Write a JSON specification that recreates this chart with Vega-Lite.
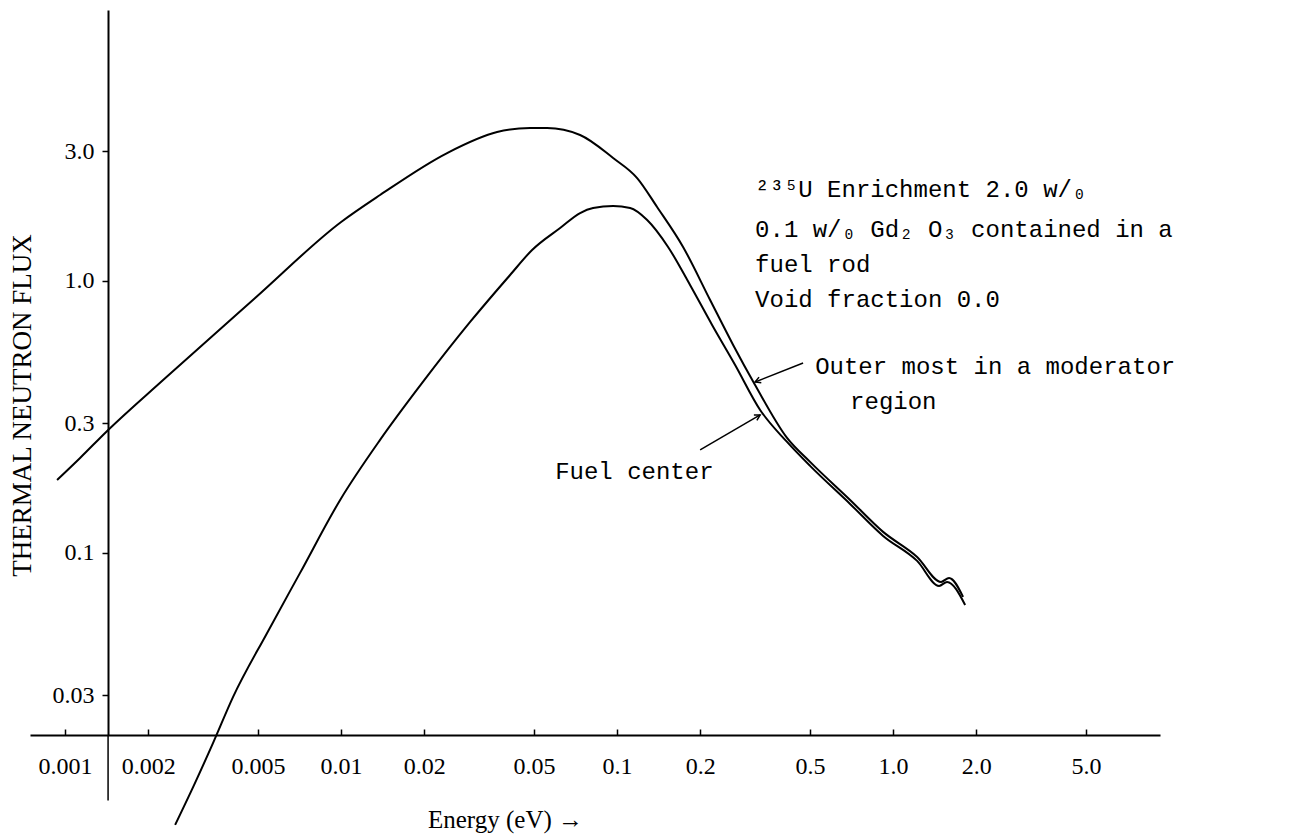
{
  "$schema": "https://vega.github.io/schema/vega-lite/v6.json",
  "width": 1130,
  "height": 725,
  "autosize": {"type": "none"},
  "padding": {"left": 30, "top": 10, "right": 133, "bottom": 104},
  "background": "white",
  "config": {"view": {"stroke": null}, "font": "Liberation Serif"},
  "datasets": {
    "curves": [
      {"series": "Outer most in a moderator region", "energy": 0.000935, "flux": 0.1855},
      {"series": "Outer most in a moderator region", "energy": 0.001133, "flux": 0.2235},
      {"series": "Outer most in a moderator region", "energy": 0.001408, "flux": 0.2786},
      {"series": "Outer most in a moderator region", "energy": 0.002265, "flux": 0.4325},
      {"series": "Outer most in a moderator region", "energy": 0.004881, "flux": 0.866},
      {"series": "Outer most in a moderator region", "energy": 0.01, "flux": 1.648},
      {"series": "Outer most in a moderator region", "energy": 0.01384, "flux": 2.071},
      {"series": "Outer most in a moderator region", "energy": 0.02422, "flux": 2.955},
      {"series": "Outer most in a moderator region", "energy": 0.03674, "flux": 3.53},
      {"series": "Outer most in a moderator region", "energy": 0.0484, "flux": 3.651},
      {"series": "Outer most in a moderator region", "energy": 0.05577, "flux": 3.651},
      {"series": "Outer most in a moderator region", "energy": 0.07343, "flux": 3.442},
      {"series": "Outer most in a moderator region", "energy": 0.09672, "flux": 2.833},
      {"series": "Outer most in a moderator region", "energy": 0.1182, "flux": 2.391},
      {"series": "Outer most in a moderator region", "energy": 0.1396, "flux": 1.871},
      {"series": "Outer most in a moderator region", "energy": 0.1734, "flux": 1.334},
      {"series": "Outer most in a moderator region", "energy": 0.2173, "flux": 0.8514},
      {"series": "Outer most in a moderator region", "energy": 0.2633, "flux": 0.5818},
      {"series": "Outer most in a moderator region", "energy": 0.3162, "flux": 0.4146},
      {"series": "Outer most in a moderator region", "energy": 0.4128, "flux": 0.2648},
      {"series": "Outer most in a moderator region", "energy": 0.5003, "flux": 0.2161},
      {"series": "Outer most in a moderator region", "energy": 0.6985, "flux": 0.1566},
      {"series": "Outer most in a moderator region", "energy": 0.9201, "flux": 0.1195},
      {"series": "Outer most in a moderator region", "energy": 1.222, "flux": 0.09667},
      {"series": "Outer most in a moderator region", "energy": 1.492, "flux": 0.07822},
      {"series": "Outer most in a moderator region", "energy": 1.595, "flux": 0.08093},
      {"series": "Outer most in a moderator region", "energy": 1.793, "flux": 0.06889},
      {"series": "Fuel center", "energy": 0.002504, "flux": 0.01},
      {"series": "Fuel center", "energy": 0.002934, "flux": 0.01403},
      {"series": "Fuel center", "energy": 0.003437, "flux": 0.02002},
      {"series": "Fuel center", "energy": 0.004061, "flux": 0.02956},
      {"series": "Fuel center", "energy": 0.005394, "flux": 0.0508},
      {"series": "Fuel center", "energy": 0.007101, "flux": 0.08444},
      {"series": "Fuel center", "energy": 0.00992, "flux": 0.1566},
      {"series": "Fuel center", "energy": 0.01384, "flux": 0.2603},
      {"series": "Fuel center", "energy": 0.01966, "flux": 0.4217},
      {"series": "Fuel center", "energy": 0.02934, "flux": 0.7067},
      {"series": "Fuel center", "energy": 0.04095, "flux": 1.052},
      {"series": "Fuel center", "energy": 0.0492, "flux": 1.3},
      {"series": "Fuel center", "energy": 0.06216, "flux": 1.566},
      {"series": "Fuel center", "energy": 0.07343, "flux": 1.778},
      {"series": "Fuel center", "energy": 0.08185, "flux": 1.855},
      {"series": "Fuel center", "energy": 0.09672, "flux": 1.887},
      {"series": "Fuel center", "energy": 0.1115, "flux": 1.855},
      {"series": "Fuel center", "energy": 0.1285, "flux": 1.676},
      {"series": "Fuel center", "energy": 0.153, "flux": 1.334},
      {"series": "Fuel center", "energy": 0.1838, "flux": 0.9667},
      {"series": "Fuel center", "energy": 0.2209, "flux": 0.6891},
      {"series": "Fuel center", "energy": 0.2677, "flux": 0.4911},
      {"series": "Fuel center", "energy": 0.3298, "flux": 0.3356},
      {"series": "Fuel center", "energy": 0.4128, "flux": 0.2559},
      {"series": "Fuel center", "energy": 0.5003, "flux": 0.2089},
      {"series": "Fuel center", "energy": 0.6985, "flux": 0.1514},
      {"series": "Fuel center", "energy": 0.9201, "flux": 0.1155},
      {"series": "Fuel center", "energy": 1.222, "flux": 0.09346},
      {"series": "Fuel center", "energy": 1.468, "flux": 0.07562},
      {"series": "Fuel center", "energy": 1.569, "flux": 0.07822},
      {"series": "Fuel center", "energy": 1.824, "flux": 0.06438}
    ],
    "notes": [
      {"text": "²³⁵U Enrichment 2.0 w/₀", "energy": 0.3162, "flux": 2.161},
      {"text": "0.1 w/₀  Gd₂ O₃  contained in a", "energy": 0.3162, "flux": 1.54},
      {"text": "fuel rod", "energy": 0.3162, "flux": 1.145},
      {"text": "Void fraction 0.0", "energy": 0.3162, "flux": 0.8514},
      {"text": "Outer most in a moderator", "energy": 0.5218, "flux": 0.4829},
      {"text": "region", "energy": 0.6985, "flux": 0.359},
      {"text": "Fuel center", "energy": 0.05963, "flux": 0.1985}
    ],
    "arrows": [
      {"arrow": "outer", "energy": 0.4719, "flux": 0.4995},
      {"arrow": "outer", "energy": 0.3162, "flux": 0.4252},
      {"arrow": "fuel", "energy": 0.1999, "flux": 0.2391},
      {"arrow": "fuel", "energy": 0.3298, "flux": 0.3216}
    ],
    "axisExtension": [
      {"energy": 0.001431, "flux": 0.0214, "flux2": 0.0123}
    ]
  },
  "layer": [
    {
      "data": {"name": "curves"},
      "mark": {"type": "line", "color": "black", "strokeWidth": 2, "interpolate": "monotone"},
      "encoding": {
        "x": {
          "field": "energy",
          "type": "quantitative",
          "scale": {"type": "log", "domain": [0.000746, 9.27], "nice": false},
          "axis": {
            "values": [0.001, 0.002, 0.005, 0.01, 0.02, 0.05, 0.1, 0.2, 0.5, 1, 2, 5],
            "labelExpr": "datum.value >= 1 ? format(datum.value, '.1f') : format(datum.value, '~g')",
            "grid": false,
            "domainColor": "black",
            "domainWidth": 2,
            "tickColor": "black",
            "tickWidth": 1.5,
            "tickSize": -6,
            "labelPadding": 25,
            "labelFont": "Liberation Serif",
            "labelFontSize": 24,
            "labelColor": "black",
            "labelOverlap": false,
            "labelFlush": false,
            "title": "Energy (eV) →",
            "titleFont": "Liberation Serif",
            "titleFontSize": 25,
            "titleFontWeight": "normal",
            "titleColor": "black",
            "titleX": 475,
            "titleY": 84,
            "titleBaseline": "middle"
          }
        },
        "y": {
          "field": "flux",
          "type": "quantitative",
          "scale": {"type": "log", "domain": [0.0214, 9.92], "nice": false},
          "axis": {
            "values": [0.03, 0.1, 0.3, 1, 3],
            "labelExpr": "datum.value >= 1 ? format(datum.value, '.1f') : format(datum.value, '~g')",
            "offset": -78,
            "grid": false,
            "domainColor": "black",
            "domainWidth": 2,
            "tickColor": "black",
            "tickWidth": 1.5,
            "tickSize": 6,
            "labelPadding": 8,
            "labelFont": "Liberation Serif",
            "labelFontSize": 24,
            "labelColor": "black",
            "labelOverlap": false,
            "title": "THERMAL NEUTRON FLUX",
            "titleFont": "Liberation Serif",
            "titleFontSize": 27,
            "titleFontWeight": "normal",
            "titleColor": "black",
            "titleX": -86,
            "titleY": 395,
            "titleAngle": -90,
            "titleAlign": "center",
            "titleBaseline": "middle"
          }
        },
        "detail": {"field": "series", "type": "nominal"}
      }
    },
    {
      "data": {"name": "axisExtension"},
      "mark": {"type": "rule", "color": "black", "strokeWidth": 1.5},
      "encoding": {
        "x": {"field": "energy", "type": "quantitative"},
        "y": {"field": "flux", "type": "quantitative"},
        "y2": {"field": "flux2"}
      }
    },
    {
      "data": {"name": "arrows"},
      "mark": {"type": "line", "color": "black", "strokeWidth": 1.5},
      "encoding": {
        "x": {"field": "energy", "type": "quantitative"},
        "y": {"field": "flux", "type": "quantitative"},
        "detail": {"field": "arrow", "type": "nominal"}
      }
    },
    {
      "data": {"name": "arrows"},
      "transform": [{"filter": "datum.arrow == 'outer'"}, {"window": [{"op": "row_number", "as": "i"}]}, {"filter": "datum.i == 2"}],
      "mark": {"type": "point", "shape": "M -1 -0.55 L 0 0 L -1 0.55", "filled": false, "stroke": "black", "strokeWidth": 1.5, "size": 120, "angle": 158, "opacity": 1},
      "encoding": {
        "x": {"field": "energy", "type": "quantitative"},
        "y": {"field": "flux", "type": "quantitative"}
      }
    },
    {
      "data": {"name": "arrows"},
      "transform": [{"filter": "datum.arrow == 'fuel'"}, {"window": [{"op": "row_number", "as": "i"}]}, {"filter": "datum.i == 2"}],
      "mark": {"type": "point", "shape": "M -1 -0.55 L 0 0 L -1 0.55", "filled": false, "stroke": "black", "strokeWidth": 1.5, "size": 120, "angle": 330, "opacity": 1},
      "encoding": {
        "x": {"field": "energy", "type": "quantitative"},
        "y": {"field": "flux", "type": "quantitative"}
      }
    },
    {
      "data": {"name": "notes"},
      "mark": {"type": "text", "align": "left", "baseline": "middle", "font": "Liberation Mono", "fontSize": 24, "color": "black"},
      "encoding": {
        "x": {"field": "energy", "type": "quantitative"},
        "y": {"field": "flux", "type": "quantitative"},
        "text": {"field": "text", "type": "nominal"}
      }
    }
  ]
}
